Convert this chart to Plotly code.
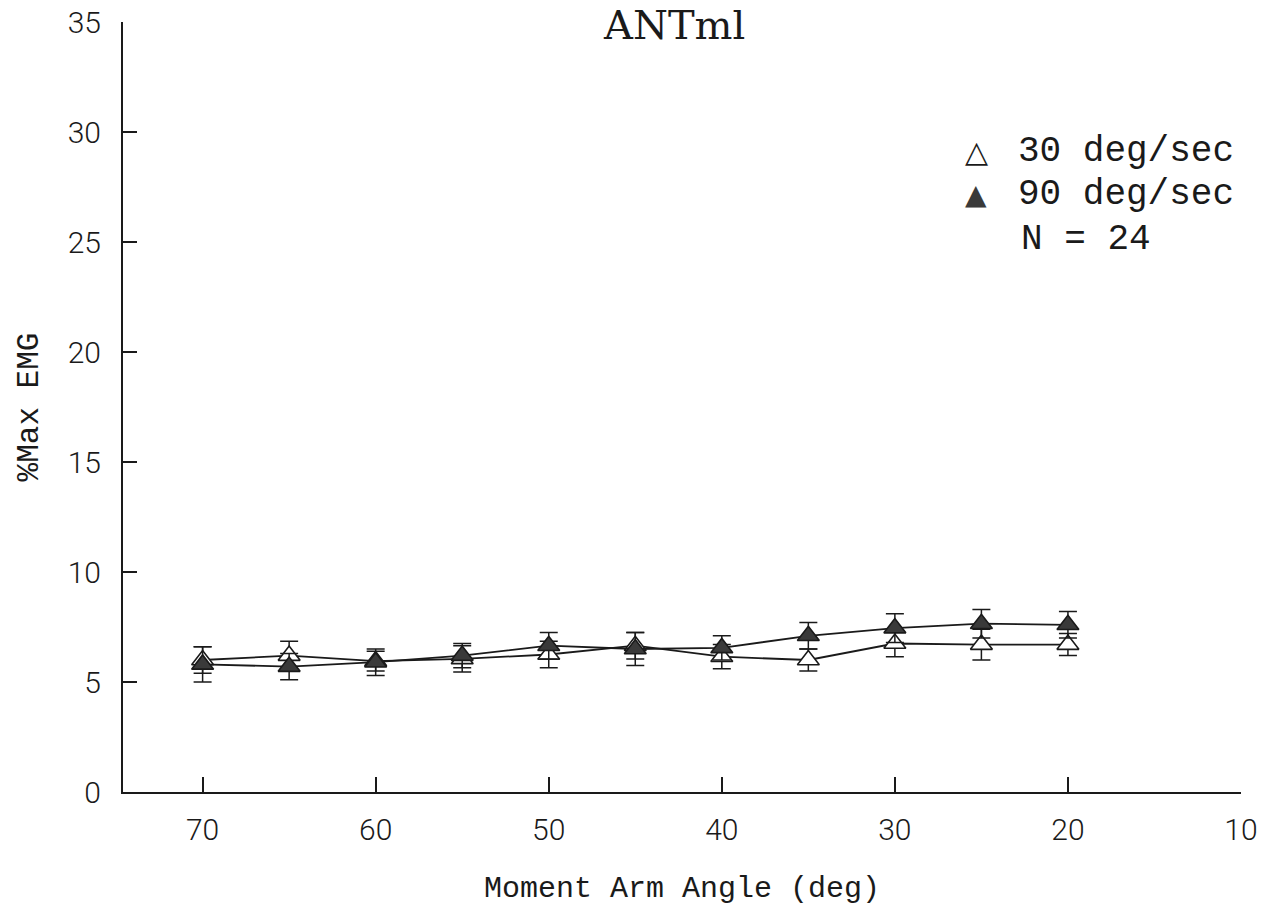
import plotly.graph_objects as go

# ---- data ----
angles = [70, 65, 60, 55, 50, 45, 40, 35, 30, 25, 20]
emg_30 = [6.0, 6.2, 5.95, 6.05, 6.25, 6.65, 6.15, 6.0, 6.75, 6.7, 6.7]
err_30 = [0.6, 0.65, 0.45, 0.6, 0.6, 0.6, 0.55, 0.5, 0.6, 0.7, 0.5]
emg_90 = [5.8, 5.7, 5.9, 6.2, 6.65, 6.5, 6.55, 7.1, 7.45, 7.65, 7.6]
err_90 = [0.8, 0.6, 0.6, 0.55, 0.6, 0.75, 0.55, 0.6, 0.65, 0.65, 0.6]
y_ticks = [0, 5, 10, 15, 20, 25, 30, 35]
x_ticks = [70, 60, 50, 40, 30, 20, 10]
legend_labels = ["30 deg/sec", "90 deg/sec", "N = 24"]

MONO = "Liberation Mono"
SERIF = "DejaVu Serif"
TICKF = dict(family="Roboto", size=30, color="#1a1a1a", weight=300)
INK = "#1a1a1a"
FILL = "#3a3a3a"

fig = go.Figure()
fig.add_trace(go.Scatter(
    x=angles, y=emg_30, mode="lines+markers", name=legend_labels[0],
    line=dict(color=INK, width=1.8),
    marker=dict(symbol="triangle-up", size=19, color="white",
                line=dict(color=INK, width=1.6)),
    error_y=dict(type="data", array=err_30, color=INK, thickness=1.5, width=9),
    showlegend=False,
))
fig.add_trace(go.Scatter(
    x=angles, y=emg_90, mode="lines+markers", name=legend_labels[1],
    line=dict(color=INK, width=1.8),
    marker=dict(symbol="triangle-up", size=19, color=FILL,
                line=dict(color=INK, width=1.6)),
    error_y=dict(type="data", array=err_90, color=INK, thickness=1.5, width=9),
    showlegend=False,
))

def px_y(p):
    # convert a pixel row into y data units (plot spans 22..792 px for 35..0)
    return (792 - p) / 22.0

annotations = [
    dict(text="ANTml", x=0.493, y=1.0, xref="paper", yref="paper",
         xanchor="center", yanchor="middle", showarrow=False, yshift=-3,
         font=dict(family=SERIF, size=40, color=INK)),
    dict(text="△", x=0.763, y=px_y(151), xref="paper", yref="y", showarrow=False,
         xanchor="center", yanchor="middle",
         font=dict(family="DejaVu Sans", size=30, color=INK)),
    dict(text=legend_labels[0], x=0.799, y=px_y(151), xref="paper", yref="y", showarrow=False,
         xanchor="left", yanchor="middle", font=dict(family=MONO, size=36, color=INK)),
    dict(text="▲", x=0.763, y=px_y(194), xref="paper", yref="y", showarrow=False,
         xanchor="center", yanchor="middle",
         font=dict(family="DejaVu Sans", size=28, color=FILL)),
    dict(text=legend_labels[1], x=0.799, y=px_y(194), xref="paper", yref="y", showarrow=False,
         xanchor="left", yanchor="middle", font=dict(family=MONO, size=36, color=INK)),
    dict(text=legend_labels[2], x=0.801, y=px_y(239), xref="paper", yref="y", showarrow=False,
         xanchor="left", yanchor="middle", font=dict(family=MONO, size=36, color=INK)),
]

fig.update_layout(
    width=1263, height=914,
    margin=dict(l=123, r=22, t=22, b=122),
    paper_bgcolor="white", plot_bgcolor="white",
    annotations=annotations,
    xaxis=dict(
        range=[74.6, 10], tickvals=x_ticks, ticktext=[str(v) for v in x_ticks],
        ticks="inside", ticklen=15, tickwidth=1.5, tickcolor=INK, automargin=False,
        showline=True, linecolor=INK, linewidth=2, showgrid=False, zeroline=False,
        tickfont=TICKF, ticklabelstandoff=10,
        title=dict(text="Moment Arm Angle (deg)", font=dict(family=MONO, size=30, color=INK),
                   standoff=30),
    ),
    yaxis=dict(
        range=[0, 35], tickvals=y_ticks, ticktext=[str(v) for v in y_ticks],
        ticks="inside", ticklen=14, tickwidth=1.5, tickcolor=INK, automargin=False,
        showline=True, linecolor=INK, linewidth=2, showgrid=False, zeroline=False,
        tickfont=TICKF, ticklabelstandoff=14,
        title=dict(text="%Max EMG", font=dict(family=MONO, size=31, color=INK),
                   standoff=20),
    ),
)

fig.write_html("out.html")
